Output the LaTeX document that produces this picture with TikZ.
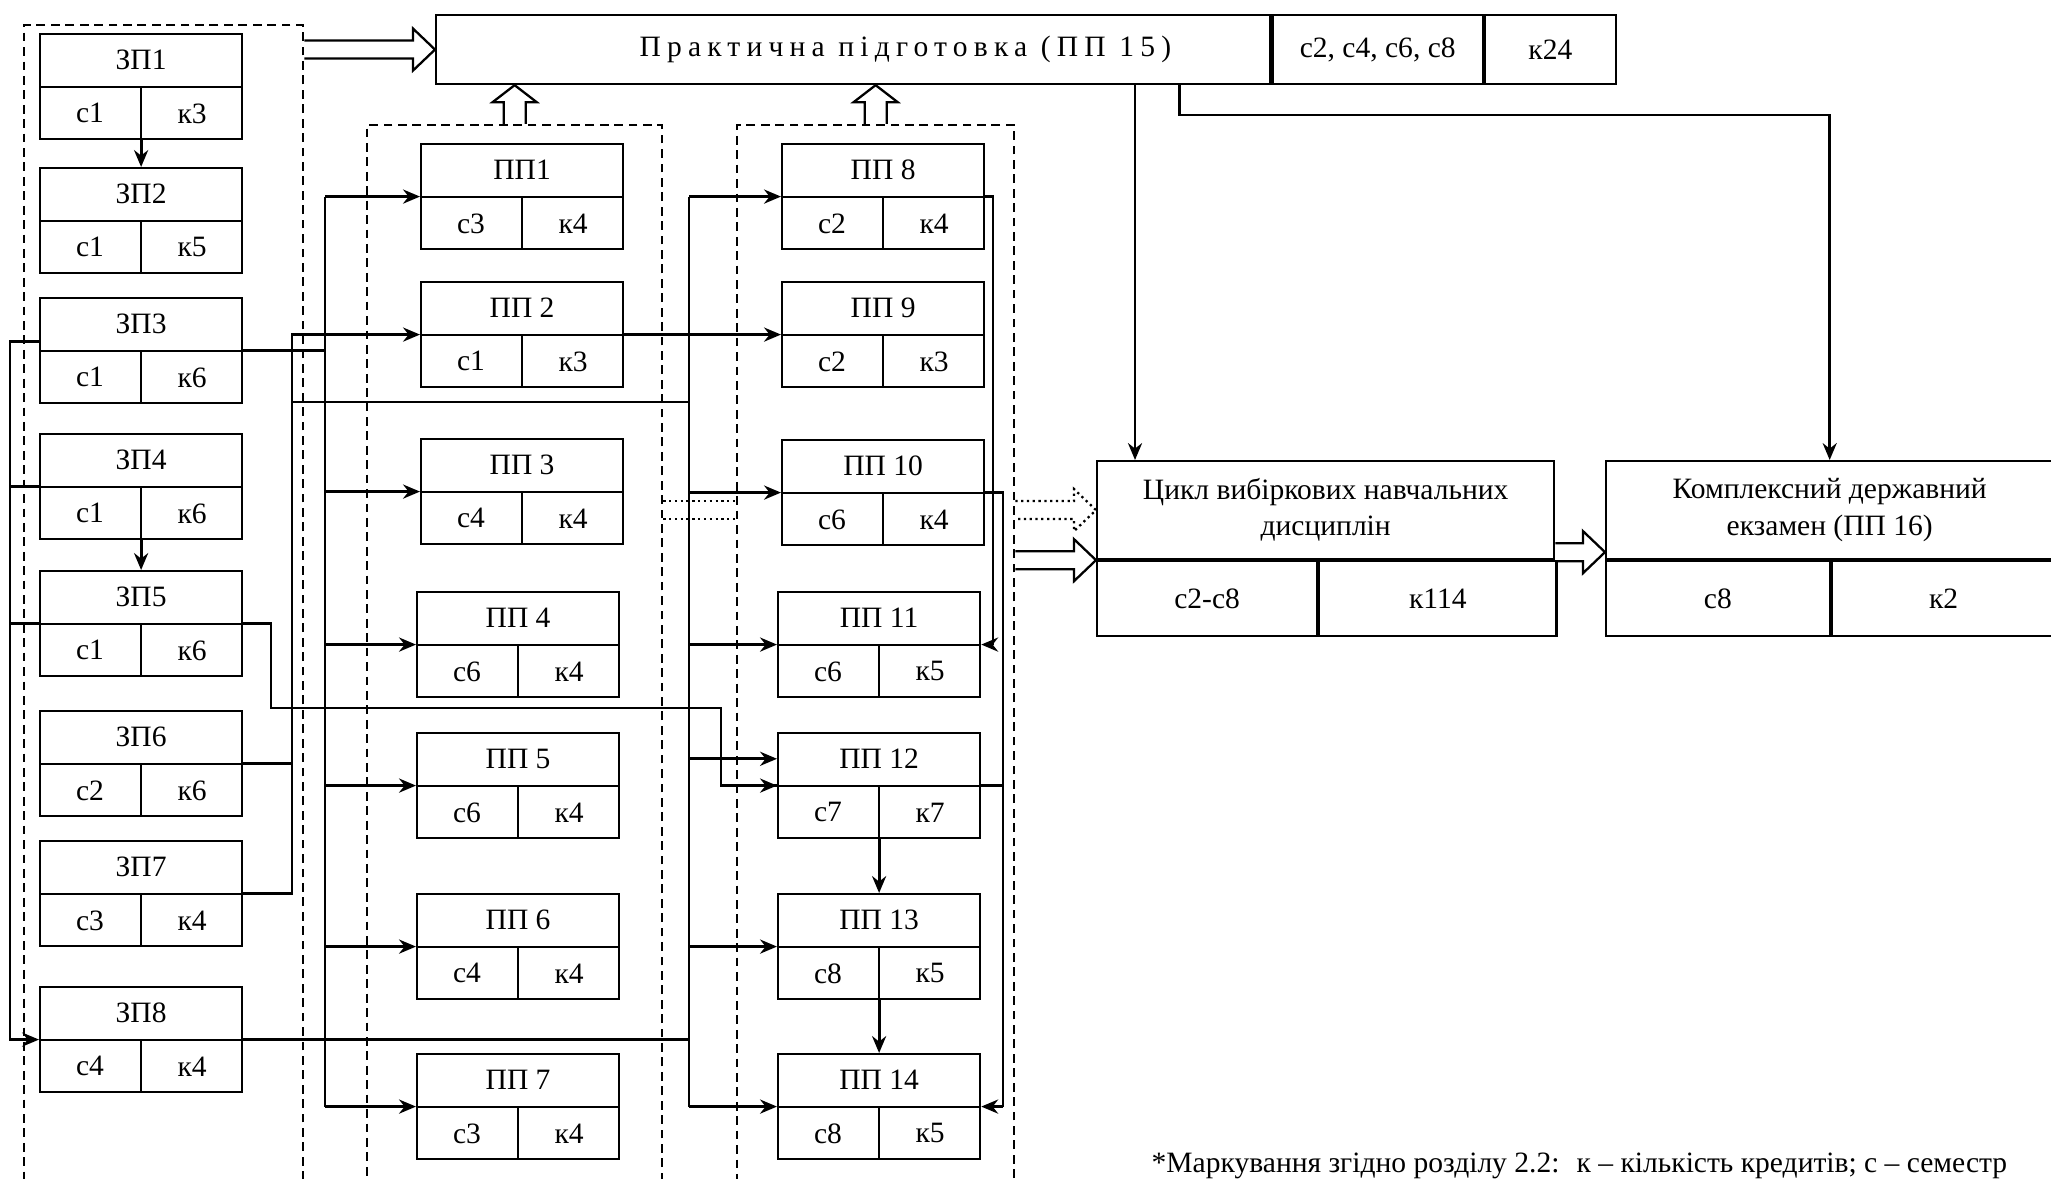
\documentclass[tikz,border=0pt]{standalone}
\usepackage{fontspec}
\setmainfont{Liberation Serif}
\newfontfamily\spaced[LetterSpace=21]{Liberation Serif}
\usetikzlibrary{arrows.meta,positioning,calc}

% one course block: name, top-left corner, title, semester, credits
\newcommand{\kurs}[5]{%
  \node[kb] (#1) at (#2) {};
  \draw[kbl] (#1.west) -- (#1.east) (#1.center) -- (#1.south);
  \node (#1t) at ($(#1.north)!.5!(#1.center)$) {#3};
  \node (#1s) at ($(#1.south west)!.5!(#1.center)$) {#4};
  \node (#1k) at ($(#1.south east)!.5!(#1.center)$) {#5};
}
% hollow block arrows
\newcommand{\fatright}[3][]{%
  \draw[fat,#1] ($(#2)+(0,-9)$) -- ($(#3)+(-22,-9)$) -- ($(#3)+(-22,-21)$) -- (#3)
    -- ($(#3)+(-22,21)$) -- ($(#3)+(-22,9)$) -- ($(#2)+(0,9)$);
}
\newcommand{\fatup}[2]{%
  \draw[fat] ($(#1)+(-11,0)$) -- ($(#2)+(-11,17)$) -- ($(#2)+(-22,17)$) -- (#2)
    -- ($(#2)+(22,17)$) -- ($(#2)+(11,17)$) -- ($(#1)+(11,0)$);
}

\begin{document}
\begin{tikzpicture}[x=0.01cm, y=-0.01cm, >={Stealth[length=4.8pt,width=4pt]},
    font=\fontsize{8.4}{10.3}\selectfont,
    kb/.style={draw, line width=0.6pt, minimum width=2.02cm, minimum height=1.05cm,
               anchor=north west, inner sep=0pt},
    kbl/.style={line width=0.6pt},
    cell/.style={draw, line width=0.6pt, anchor=north west, inner sep=0pt},
    grp/.style={draw, dash pattern=on 2.5pt off 1.6pt, line width=0.6pt,
                anchor=north west, inner sep=0pt},
    ln/.style={line width=0.65pt},
    med/.style={line width=0.75pt},
    arr/.style={line width=0.9pt, ->},
    fat/.style={line width=0.65pt}]
  \useasboundingbox (0,0) rectangle (2051,1179);

  % groups
  \node[grp, minimum width=2.79cm, minimum height=12.5cm] (grp1) at (23,24) {};
  \node[grp, minimum width=2.95cm, minimum height=11.5cm] (grp2) at (366,124) {};
  \node[grp, minimum width=2.77cm, minimum height=11.5cm] (grp3) at (736,124) {};

  % column 1
  \kurs{zp1}{39,33}{ЗП1}{с1}{к3}
  \kurs{zp2}{39,167}{ЗП2}{с1}{к5}
  \kurs{zp3}{39,297}{ЗП3}{с1}{к6}
  \kurs{zp4}{39,433}{ЗП4}{с1}{к6}
  \kurs{zp5}{39,570}{ЗП5}{с1}{к6}
  \kurs{zp6}{39,710}{ЗП6}{с2}{к6}
  \kurs{zp7}{39,840}{ЗП7}{с3}{к4}
  \kurs{zp8}{39,986}{ЗП8}{с4}{к4}

  % column 2
  \kurs{pp1}{420,143}{ПП1}{с3}{к4}
  \kurs{pp2}{420,281}{ПП 2}{с1}{к3}
  \kurs{pp3}{420,438}{ПП 3}{с4}{к4}
  \kurs{pp4}{416,591}{ПП 4}{с6}{к4}
  \kurs{pp5}{416,732}{ПП 5}{с6}{к4}
  \kurs{pp6}{416,893}{ПП 6}{с4}{к4}
  \kurs{pp7}{416,1053}{ПП 7}{с3}{к4}

  % column 3
  \kurs{pp8}{781,143}{ПП 8}{с2}{к4}
  \kurs{pp9}{781,281}{ПП 9}{с2}{к3}
  \kurs{pp10}{781,439}{ПП 10}{с6}{к4}
  \kurs{pp11}{777,591}{ПП 11}{с6}{к5}
  \kurs{pp12}{777,732}{ПП 12}{с7}{к7}
  \kurs{pp13}{777,893}{ПП 13}{с8}{к5}
  \kurs{pp14}{777,1053}{ПП 14}{с8}{к5}

  % practice, elective cycle, state exam
  \node[cell, minimum width=8.34cm, minimum height=0.69cm] (pp15) at (435,14) {};
  \node (pp15t) at ([xshift=0.52cm]pp15.center) {\spaced Практична підготовка (ПП 15)};
  \node[cell, minimum width=2.10cm, minimum height=0.69cm, right=0pt of pp15] (pp15s) {с2, с4, с6, с8};
  \node[cell, minimum width=1.31cm, minimum height=0.69cm, right=0pt of pp15s] (pp15k) {к24};

  \node[cell, minimum width=4.57cm, minimum height=0.98cm, align=center] (cikl) at (1096,460)
    {Цикл вибіркових навчальних\\дисциплін};
  \node[cell, minimum width=2.20cm, minimum height=0.75cm] (cikls) at (cikl.south west) {с2-с8};
  \node[cell, minimum width=2.37cm, minimum height=0.75cm] (ciklk) at (cikls.north east) {к114};

  \node[cell, minimum width=4.47cm, minimum height=0.98cm, align=center] (kde) at (1605,460)
    {Комплексний державний\\екзамен (ПП 16)};
  \node[cell, minimum width=2.235cm, minimum height=0.75cm] (kdes) at (kde.south west) {с8};
  \node[cell, minimum width=2.235cm, minimum height=0.75cm] (kdek) at (kdes.north east) {к2};

  % bus lines
  \coordinate (busL) at (10,0);
  \coordinate (busA) at (292,0);
  \coordinate (busB) at (325,0);
  \coordinate (busC) at (689,0);
  \coordinate (busR) at (993,0);
  \coordinate (busS) at (1003,0);
  \coordinate (link) at (0,402);
  \coordinate (jog1) at (271,708);
  \coordinate (jog2) at (721,708);

  % inside column 1
  \draw[arr] (zp1.south) -- (zp2.north);
  \draw[arr] (zp4.south) -- (zp5.north);
  \draw[ln,->] ([yshift=0.09cm]zp3.west) -| (busL |- zp8.west) -- (zp8.west);
  \draw[ln] (zp4.west) -- (busL |- zp4.west);
  \draw[ln] (zp5.west) -- (busL |- zp5.west);

  % column 1 -> column 2
  \draw[ln] (zp3.east) -- (busB |- zp3.east);
  \draw[ln] (busB |- pp1.west) -- (busB |- pp7.west);
  \foreach \n in {pp1,pp3,pp4,pp5,pp6,pp7}
    \draw[arr] (busB |- \n.west) -- (\n.west);
  \draw[ln] (zp6.east) -- (busA |- zp6.east);
  \draw[ln] (zp7.east) -| (busA |- pp2.west) -- (busB |- pp2.west);
  \draw[arr] (busB |- pp2.west) -- (pp2.west);
  \draw[ln] (busA |- link) -- (busC |- link);

  % into column 3
  \draw[arr] (pp2.east) -- (pp9.west);
  \draw[ln] (zp8.east) -- (busC |- zp8.east);
  \draw[ln] (busC |- pp8.west) -- (busC |- pp14.west);
  \foreach \n in {pp8,pp10,pp11,pp13,pp14}
    \draw[arr] (busC |- \n.west) -- (\n.west);
  \coordinate (pp12up) at ($(pp12.north west)!.5!(pp12.west)$);
  \draw[arr] (busC |- pp12up) -- (pp12up);
  \draw[ln] (zp5.east) -| (jog1) -- (jog2) |- (pp12.west);
  \draw[arr] (jog2 |- pp12.west) -- (pp12.west);

  % inside column 3
  \draw[arr] (pp12.south) -- (pp13.north);
  \draw[arr] (pp13.south) -- (pp14.north);
  \draw[ln] (pp8.east) -| (busR |- pp11.east);
  \draw[arr] (busR |- pp11.east) -- (pp11.east);
  \draw[ln] (pp10.east) -| (busS |- pp14.east);
  \draw[ln] (pp12.east) -- (busS |- pp12.east);
  \draw[arr] (busS |- pp14.east) -- (pp14.east);

  % practice -> cycle, exam
  \coordinate (c1) at ([xshift=0.39cm]cikl.north west);
  \draw[med,->] (c1 |- pp15.south) -- (c1);
  \draw[med,->] ([xshift=-0.92cm]pp15.south east) -- ++(0,30) -| (kde.north);

  % block arrows
  \coordinate (f1) at (grp1.east |- pp15.west);
  \fatright{f1}{pp15.west}
  \coordinate (u1) at (grp2.north |- pp15.south);
  \fatup{grp2.north}{u1}
  \coordinate (u2) at (grp3.north |- pp15.south);
  \fatup{grp3.north}{u2}
  \coordinate (d1) at (grp2.east |- cikl.west);
  \coordinate (d2) at (grp3.west |- cikl.west);
  \coordinate (d3) at (grp3.east |- cikl.west);
  \draw[fat, densely dotted] ($(d1)+(0,-9)$) -- ($(d2)+(0,-9)$) ($(d1)+(0,9)$) -- ($(d2)+(0,9)$);
  \fatright[densely dotted]{d3}{cikl.west}
  \coordinate (f2) at (grp3.east |- cikl.south west);
  \fatright{f2}{cikl.south west}
  \coordinate (f3) at ([yshift=0.08cm]cikl.south east);
  \coordinate (f4) at ([yshift=0.08cm]kde.south west);
  \fatright{f3}{f4}

  \node[anchor=base west, inner sep=0pt] (note) at (1151,1172)
    {*Маркування згідно розділу 2.2:~ к – кількість кредитів; с – семестр};
\end{tikzpicture}
\end{document}
